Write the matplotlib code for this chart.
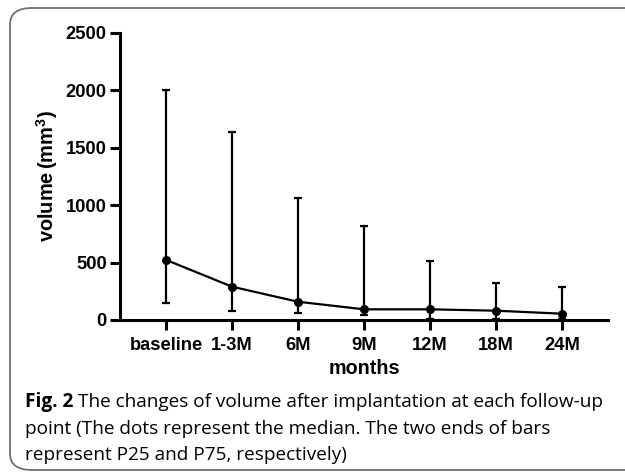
import matplotlib
matplotlib.use('Agg')
import matplotlib.pyplot as plt
from matplotlib.patches import FancyBboxPatch

plt.rcParams['font.family'] = ['Liberation Sans', 'DejaVu Sans']
plt.rcParams['mathtext.fontset'] = 'custom'
plt.rcParams['mathtext.rm'] = 'Liberation Sans:bold'
plt.rcParams['mathtext.bf'] = 'Liberation Sans:bold'

# data: median with P25 / P75
months = ['baseline', '1-3M', '6M', '9M', '12M', '18M', '24M']
median = [523, 290, 159, 93, 93, 81, 55]
p25 = [152, 80, 57, 45, 5, 5, 5]
p75 = [2005, 1640, 1063, 816, 516, 320, 290]

fig = plt.figure(figsize=(6.25, 4.72), dpi=100)

# rounded frame round the figure
frame = FancyBboxPatch((10 / 625, 2 / 472), 640 / 625, 462 / 472,
                       boxstyle='round,pad=0,rounding_size=0.035',
                       transform=fig.transFigure, fill=False,
                       edgecolor='#707070', linewidth=1.3)
fig.patches.append(frame)

ax = fig.add_axes([120 / 625, 1 - 320 / 472, 488 / 625, 287 / 472])

x = list(range(len(months)))
lower = [m - p for m, p in zip(median, p25)]
upper = [p - m for m, p in zip(median, p75)]
ax.errorbar(x, median, yerr=[lower, upper], color='black', linewidth=1.6,
            elinewidth=1.6, capsize=3, capthick=1.6, marker='o',
            markersize=5.5, zorder=3)

ax.set_xlim(-0.7, 6.7)
ax.set_ylim(0, 2500)
ax.set_yticks([0, 500, 1000, 1500, 2000, 2500])
ax.set_xticks(x)
ax.set_xticklabels(months)

for s in ['top', 'right']:
    ax.spines[s].set_visible(False)
for s in ['left', 'bottom']:
    ax.spines[s].set_linewidth(2.2)
ax.spines['bottom'].set_zorder(4)
ax.tick_params(axis='both', width=2.2, length=7.5, labelsize=13.2, pad=2)
ax.tick_params(axis='x', pad=5)
for lab in ax.get_xticklabels() + ax.get_yticklabels():
    lab.set_fontweight('bold')

ax.set_xlabel('months', fontsize=14.2, fontweight='bold', labelpad=3)
ax.set_ylabel(r'volume$\,$(mm$^{3}$)', fontsize=14.4, fontweight='bold', labelpad=4)

# caption
cap_font = ['Open Sans', 'DejaVu Sans']
cap_size = 13.7
t = fig.text(25 / 625, 1 - 407 / 472, 'Fig. 2', fontsize=cap_size, fontweight='bold',
             family=cap_font, va='baseline')
fig.canvas.draw()
bb = t.get_window_extent()
fig.text(bb.x1 / 625 + 5 / 625, 1 - 407 / 472,
         'The changes of volume after implantation at each follow-up',
         fontsize=cap_size, family=cap_font, va='baseline')
fig.text(25 / 625, 1 - 434 / 472,
         'point (The dots represent the median. The two ends of bars',
         fontsize=cap_size, family=cap_font, va='baseline')
fig.text(25 / 625, 1 - 460 / 472,
         'represent P25 and P75, respectively)',
         fontsize=cap_size, family=cap_font, va='baseline')

fig.savefig('out.png', dpi=100)
